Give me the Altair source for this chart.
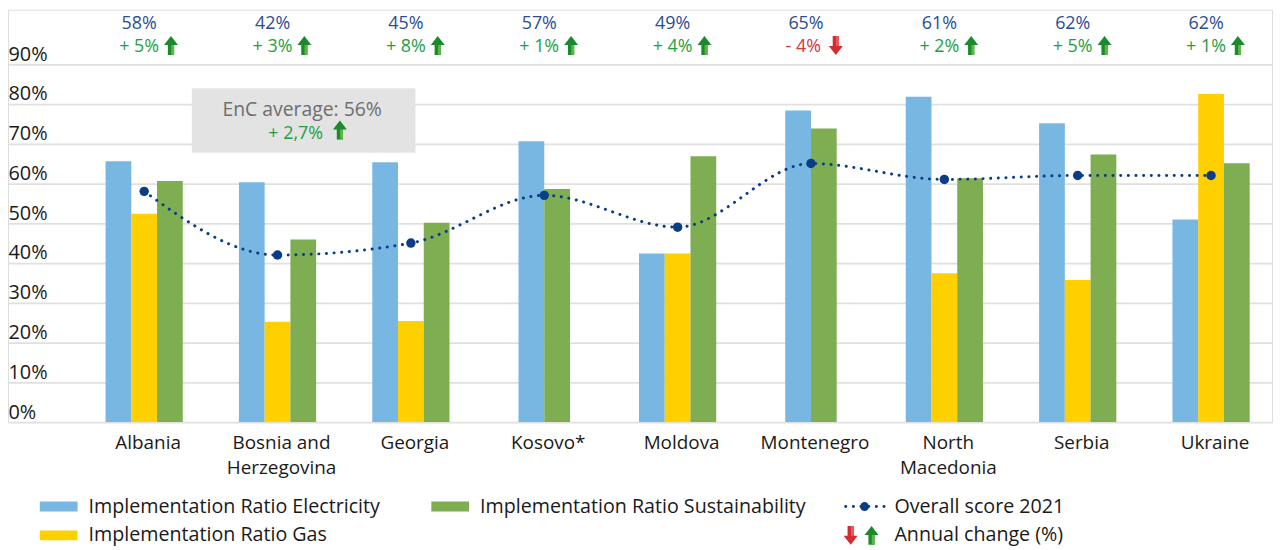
import altair as alt
import pandas as pd

# ---------------- data ----------------
countries = ["Albania", "Bosnia and Herzegovina", "Georgia", "Kosovo*", "Moldova",
             "Montenegro", "North Macedonia", "Serbia", "Ukraine"]
axis_labels = ["Albania", "Bosnia and\nHerzegovina", "Georgia", "Kosovo*", "Moldova",
               "Montenegro", "North\nMacedonia", "Serbia", "Ukraine"]
electricity = [65.6, 60.3, 65.3, 70.6, 42.4, 78.3, 81.8, 75.1, 50.9]
gas = [52.4, 25.2, 25.4, None, 42.4, None, 37.4, 35.7, 82.5]
sustainability = [60.6, 45.9, 50.1, 58.6, 66.8, 73.8, 61.3, 67.3, 65.1]
overall_2021 = [58, 42, 45, 57, 49, 65, 61, 62, 62]
annual_change = [5, 3, 8, 1, 4, -4, 2, 5, 1]
enc_average = 56
enc_change = "2,7"
y_ticks = [0, 10, 20, 30, 40, 50, 60, 70, 80, 90]

series_names = ["Implementation Ratio Electricity", "Implementation Ratio Gas",
                "Implementation Ratio Sustainability"]
series_values = [electricity, gas, sustainability]
series_colors = ["#78b7e2", "#ffd000", "#7fad51"]

NAVY = "#0b3d87"
PCT_BLUE = "#2a4d96"
GREEN_TXT = "#1f9e45"
RED_TXT = "#d5343a"
TXT = "#1a1a1a"
FONT = "Open Sans"
BW = 0.193  # bar width in category units

# ---------------- tables ----------------
rows = []
for i, c in enumerate(countries):
    present = [(k, series_values[k][i]) for k in range(3) if series_values[k][i] is not None]
    for slot, (k, v) in enumerate(present):
        rows.append({"country": c, "idx": i, "series": series_names[k], "value": v,
                     "slot": slot, "n": len(present)})
bars_df = pd.DataFrame(rows)

cat_df = pd.DataFrame({
    "country": countries, "idx": list(range(len(countries))), "label": axis_labels,
    "overall": overall_2021, "change": annual_change,
    "overall_txt": [f"{v}%" for v in overall_2021],
    "change_txt": [("+ " if v > 0 else "- ") + f"{abs(v)}%" for v in annual_change],
})
one = pd.DataFrame({"k": [0]})

W, H = 1272, 415
xscale = alt.Scale(domain=[-1.021, 8.457], nice=False, zero=False)
yscale = alt.Scale(domain=[0, 103.67], nice=False, zero=True)

UP = "M0,-1 L0.74,-0.05 L0.33,-0.05 L0.33,1 L-0.33,1 L-0.33,-0.05 L-0.74,-0.05 Z"
UP_HI = "M0.02,-0.05 L0.33,-0.05 L0.33,1 L0.02,1 Z"
DOWN = "M0,1 L0.74,0.05 L0.33,0.05 L0.33,-1 L-0.33,-1 L-0.33,0.05 L-0.74,0.05 Z"
DOWN_HI = "M0.02,0.05 L0.33,0.05 L0.33,-1 L0.02,-1 Z"
ARROW_SIZE = 361

# ---------------- layers ----------------
bars = alt.Chart(bars_df).transform_calculate(
    x0=f"datum.idx + (datum.slot - datum.n / 2) * {BW}",
    x1=f"datum.idx + (datum.slot - datum.n / 2) * {BW} + {BW}",
).mark_rect().encode(
    x=alt.X("x0:Q", scale=xscale, axis=None),
    x2="x1:Q",
    y=alt.Y("value:Q", scale=yscale, axis=alt.Axis(
        values=y_ticks, labelExpr="datum.value + '%'", title=None, ticks=False, domain=False,
        labelAlign="left", labelBaseline="alphabetic", labelPadding=0, labelOffset=-4,
        labelFontSize=20, labelColor=TXT, labelFont=FONT, gridColor="#e0e0e0", gridWidth=1.6)),
    y2=alt.datum(0),
    color=alt.Color("series:N", scale=alt.Scale(domain=series_names, range=series_colors), legend=None),
)

line = alt.Chart(cat_df).mark_line(
    interpolate="monotone", color=NAVY, strokeWidth=3, strokeDash=[0.1, 7.6], strokeCap="round"
).encode(x=alt.X("idx:Q", scale=xscale), y=alt.Y("overall:Q", scale=yscale))

dots = alt.Chart(cat_df).mark_circle(size=90, color=NAVY, opacity=1).encode(
    x=alt.X("idx:Q", scale=xscale), y=alt.Y("overall:Q", scale=yscale))

pct_text = alt.Chart(cat_df).mark_text(
    fontSize=18, color=PCT_BLUE, font=FONT, dx=-5, baseline="alphabetic"
).encode(x=alt.X("idx:Q", scale=xscale), y=alt.value(19), text="overall_txt:N")

chg_up = alt.Chart(cat_df).transform_filter("datum.change > 0").mark_text(
    fontSize=18, color=GREEN_TXT, font=FONT, align="right", dx=15, baseline="alphabetic"
).encode(x=alt.X("idx:Q", scale=xscale), y=alt.value(43), text="change_txt:N")
chg_dn = alt.Chart(cat_df).transform_filter("datum.change < 0").mark_text(
    fontSize=18, color=RED_TXT, font=FONT, align="right", dx=10, baseline="alphabetic"
).encode(x=alt.X("idx:Q", scale=xscale), y=alt.value(43), text="change_txt:N")


def arrow_layer(data, filt, path, color, xoff, y, px=None):
    base = alt.Chart(data)
    if filt:
        base = base.transform_filter(filt)
    enc = dict(y=alt.value(y))
    if px is None:
        enc["x"] = alt.X("idx:Q", scale=xscale)
        enc["xOffset"] = alt.value(xoff)
    else:
        enc["x"] = alt.value(px)
    return base.mark_point(shape=path, filled=True, size=ARROW_SIZE, color=color,
                           opacity=1, strokeWidth=0).encode(**enc)


arrows = [
    arrow_layer(cat_df, "datum.change > 0", UP, "#1b8a2f", 27, 36),
    arrow_layer(cat_df, "datum.change > 0", UP_HI, "#5fb544", 27, 36),
    arrow_layer(cat_df, "datum.change < 0", DOWN, "#d42a30", 25, 36),
    arrow_layer(cat_df, "datum.change < 0", DOWN_HI, "#e8595c", 25, 36),
]

x_labels = alt.Chart(cat_df).mark_text(
    fontSize=19, color=TXT, font=FONT, baseline="alphabetic", lineBreak="\n", lineHeight=25, dx=4
).encode(x=alt.X("idx:Q", scale=xscale), y=alt.value(442), text="label:N")

# EnC average box
box = alt.Chart(one).mark_rect(color="#e2e3e2").encode(
    x=alt.value(185), x2=alt.value(410), y=alt.value(79), y2=alt.value(144))
box_t1 = alt.Chart(one).mark_text(fontSize=19.5, color="#6e6e6e", font=FONT, baseline="alphabetic").encode(
    x=alt.value(296), y=alt.value(107), text=alt.value(f"EnC average: {enc_average}%"))
box_t2 = alt.Chart(one).mark_text(fontSize=18, color=GREEN_TXT, font=FONT, align="right",
                                  baseline="alphabetic").encode(
    x=alt.value(317), y=alt.value(130), text=alt.value(f"+ {enc_change}%"))
box_arrows = [
    arrow_layer(one, None, UP, "#1b8a2f", 0, 121, px=334),
    arrow_layer(one, None, UP_HI, "#5fb544", 0, 121, px=334),
]

# legend
def legend_text(label, px, py):
    return alt.Chart(one).mark_text(fontSize=19.8, color=TXT, font=FONT, align="left",
                                    baseline="alphabetic").encode(
        x=alt.value(px), y=alt.value(py), text=alt.value(label))


def swatch(color, px, py):
    return alt.Chart(one).mark_rect(color=color).encode(
        x=alt.value(px), x2=alt.value(px + 38), y=alt.value(py - 5), y2=alt.value(py + 5))


legend = [
    swatch(series_colors[0], 32, 500), legend_text(series_names[0], 81, 506),
    swatch(series_colors[1], 32, 529), legend_text(series_names[1], 81, 535),
    swatch(series_colors[2], 426, 500), legend_text(series_names[2], 475, 506),
    alt.Chart(one).mark_rule(color=NAVY, strokeWidth=3, strokeDash=[0.1, 7.6], strokeCap="round").encode(
        x=alt.value(843), x2=alt.value(883), y=alt.value(500)),
    alt.Chart(one).mark_circle(size=80, color=NAVY, opacity=1).encode(x=alt.value(862), y=alt.value(500)),
    legend_text("Overall score 2021", 892, 506),
    arrow_layer(one, None, DOWN, "#d42a30", 0, 529, px=848),
    arrow_layer(one, None, DOWN_HI, "#e8595c", 0, 529, px=848),
    arrow_layer(one, None, UP, "#1b8a2f", 0, 529, px=869),
    arrow_layer(one, None, UP_HI, "#5fb544", 0, 529, px=869),
    legend_text("Annual change (%)", 892, 535),
]

chart = alt.layer(
    bars, box, line, dots, pct_text, chg_up, chg_dn, *arrows, x_labels,
    box_t1, box_t2, *box_arrows, *legend
).properties(
    width=W, height=H,
    autosize=alt.AutoSizeParams(type="none"),
    padding={"left": 0, "top": 0, "right": 3, "bottom": 126},
).configure_view(stroke=None).configure(font=FONT)

chart.save("out.html", embed_options={"renderer": "svg", "actions": False})
